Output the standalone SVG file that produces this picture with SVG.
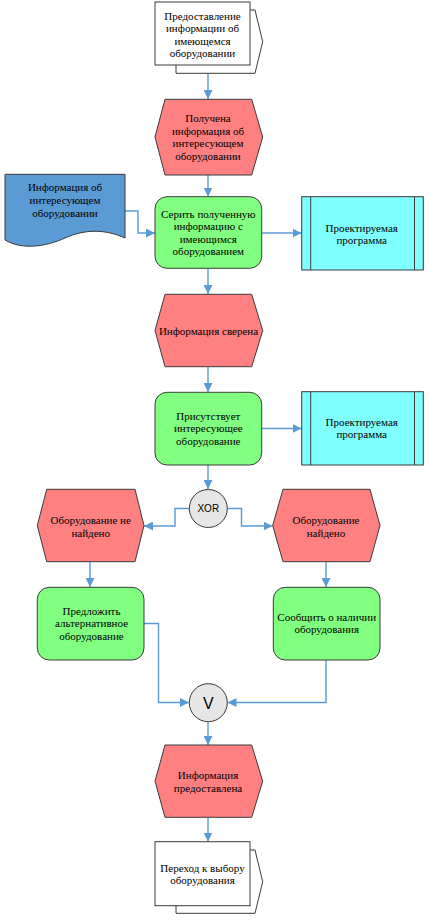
<svg xmlns="http://www.w3.org/2000/svg" width="429" height="922" viewBox="0 0 429 922">
<defs>
<style>
.ev{fill:#FF8080;stroke:#3a3a3a;stroke-width:1}
.fn{fill:#80FF80;stroke:#3a3a3a;stroke-width:1}
.sys{fill:#80FFFF;stroke:#3a3a3a;stroke-width:1}
.doc{fill:#5B9BD5;stroke:#3a3a3a;stroke-width:1}
.pi{fill:#FFFFFF;stroke:#3a3a3a;stroke-width:1}
.op{fill:#E6E6E6;stroke:#3a3a3a;stroke-width:1}
.t{font-family:"Liberation Serif","Times New Roman",serif;font-size:11px;fill:#000;text-anchor:middle}
.ts{font-family:"Liberation Sans",Arial,sans-serif;fill:#000;text-anchor:middle}
.c{fill:none;stroke:#5B9BD5;stroke-width:1.4;marker-end:url(#ah)}
</style>
<marker id="ah" viewBox="0 0 10 10" refX="10" refY="5" markerWidth="9" markerHeight="9" markerUnits="userSpaceOnUse" orient="auto">
<path d="M0,0 L10,5 L0,10 z" fill="#5B9BD5"/>
</marker>
</defs>
<rect width="429" height="922" fill="#FFFFFF"/>

<g id="connectors">
<path class="c" d="M208,65 V99"/>
<path class="c" d="M208,175 V196.5"/>
<path class="c" d="M125,211 H138 V233 H155"/>
<path class="c" d="M262,233 H301.5"/>
<path class="c" d="M208,268.5 V294"/>
<path class="c" d="M208,367 V392"/>
<path class="c" d="M262,428.5 H301.5"/>
<path class="c" d="M208,465 V489"/>
<path class="c" d="M189,508.5 H175 V526 H144"/>
<path class="c" d="M227.5,508.5 H241.5 V526 H272.5"/>
<path class="c" d="M90,562 V587"/>
<path class="c" d="M326,562 V587"/>
<path class="c" d="M144,623.5 H158.5 V702.5 H189"/>
<path class="c" d="M326,660 V702.5 H227.5"/>
<path class="c" d="M208,722 V745"/>
<path class="c" d="M208,817.5 V841.5"/>
</g>

<g id="pi_top">
<polygon class="pi" points="176,10 255,10 262.7,41.7 255,73.3 176,73.3"/>
<rect class="pi" x="155" y="2" width="95" height="63"/>
<text class="t" x="202.5" y="19.5">Предоставление</text>
<text class="t" x="202.5" y="32">информации об</text>
<text class="t" x="202.5" y="44.5">имеющемся</text>
<text class="t" x="202.5" y="57">оборудовании</text>
</g>

<g id="ev_received">
<polygon class="ev" points="165,99.3 251.7,99.3 262.7,137 251.7,175 165,175 155,137"/>
<text class="t" x="208" y="122">Получена</text>
<text class="t" x="208" y="134.5">информация об</text>
<text class="t" x="208" y="147">интересующем</text>
<text class="t" x="208" y="159.5">оборудовании</text>
</g>

<g id="doc_info">
<path class="doc" d="M5,174.3 H125 V238 C105,229 85,229 65,238 C45,247 22,250 5,240 Z"/>
<text class="t" x="65" y="191">Информация об</text>
<text class="t" x="65" y="204">интересующем</text>
<text class="t" x="65" y="217">оборудовании</text>
</g>

<g id="fn_compare">
<rect class="fn" x="155" y="196.7" width="106.7" height="71.6" rx="12" ry="12"/>
<text class="t" x="208.3" y="217.5">Серить полученную</text>
<text class="t" x="208.3" y="230">информацию с</text>
<text class="t" x="208.3" y="242.5">имеющимся</text>
<text class="t" x="208.3" y="255">оборудованием</text>
</g>

<g id="sys1">
<rect class="sys" x="301.7" y="196.7" width="121.6" height="73.3"/>
<line x1="310.7" y1="196.7" x2="310.7" y2="270" stroke="#3a3a3a" stroke-width="1"/>
<line x1="414.5" y1="196.7" x2="414.5" y2="270" stroke="#3a3a3a" stroke-width="1"/>
<text class="t" x="361.7" y="231.5">Проектируемая</text>
<text class="t" x="361.7" y="244">программа</text>
</g>

<g id="ev_checked">
<polygon class="ev" points="165,294.3 251.7,294.3 262.7,330.5 251.7,366.7 165,366.7 155,330.5"/>
<text class="t" x="208.5" y="334.5">Информация сверена</text>
</g>

<g id="fn_present">
<rect class="fn" x="155" y="392.3" width="106.7" height="72.7" rx="12" ry="12"/>
<text class="t" x="208.3" y="419.5">Присутствует</text>
<text class="t" x="208.3" y="432">интересующее</text>
<text class="t" x="208.3" y="444.5">оборудование</text>
</g>

<g id="sys2">
<rect class="sys" x="301.7" y="391.7" width="121.6" height="73.3"/>
<line x1="310.7" y1="391.7" x2="310.7" y2="465" stroke="#3a3a3a" stroke-width="1"/>
<line x1="414.5" y1="391.7" x2="414.5" y2="465" stroke="#3a3a3a" stroke-width="1"/>
<text class="t" x="361.7" y="425.5">Проектируемая</text>
<text class="t" x="361.7" y="438">программа</text>
</g>

<g id="xor">
<circle class="op" cx="208.3" cy="508.5" r="19"/>
<text class="ts" x="208.3" y="512" font-size="10">XOR</text>
</g>

<g id="ev_notfound">
<polygon class="ev" points="46.7,489.3 135,489.3 144,525.5 135,561.7 46.7,561.7 37.3,525.5"/>
<text class="t" x="90.7" y="524">Оборудование не</text>
<text class="t" x="90.7" y="536.5">найдено</text>
</g>

<g id="ev_found">
<polygon class="ev" points="283,489.3 370,489.3 380,525.5 370,561.7 283,561.7 272.7,525.5"/>
<text class="t" x="326" y="524">Оборудование</text>
<text class="t" x="326" y="536.5">найдено</text>
</g>

<g id="fn_offer">
<rect class="fn" x="37.3" y="587.3" width="106.7" height="72.7" rx="12" ry="12"/>
<text class="t" x="91.5" y="614.5">Предложить</text>
<text class="t" x="91.5" y="627">альтернативное</text>
<text class="t" x="91.5" y="639.5">оборудование</text>
</g>

<g id="fn_report">
<rect class="fn" x="273.3" y="587.3" width="106.7" height="72.7" rx="12" ry="12"/>
<text class="t" x="326.7" y="620.5">Сообщить о наличии</text>
<text class="t" x="326.7" y="633">оборудования</text>
</g>

<g id="or">
<circle class="op" cx="208.3" cy="702.7" r="19"/>
<text class="ts" x="208.3" y="708.5" font-size="16">V</text>
</g>

<g id="ev_provided">
<polygon class="ev" points="165,745 251.7,745 262.7,781.2 251.7,817.3 165,817.3 155,781.2"/>
<text class="t" x="208" y="779">Информация</text>
<text class="t" x="208" y="791.5">предоставлена</text>
</g>

<g id="pi_bottom">
<polygon class="pi" points="176,850 255,850 262.7,881.7 255,913.3 176,913.3"/>
<rect class="pi" x="155" y="841.7" width="95" height="64"/>
<text class="t" x="202.5" y="872">Переход к выбору</text>
<text class="t" x="202.5" y="884">оборудования</text>
</g>
</svg>
